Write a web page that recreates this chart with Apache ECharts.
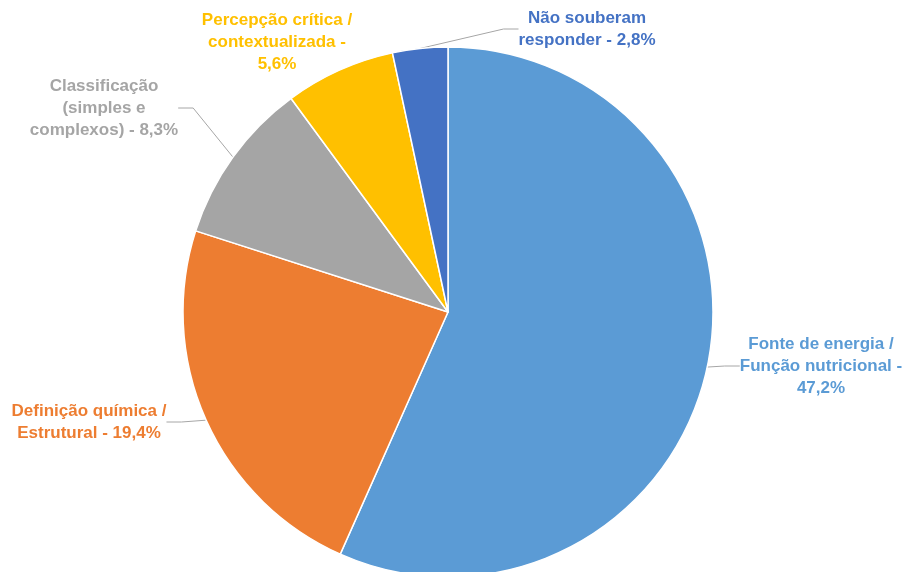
<!DOCTYPE html>
<html>
<head>
<meta charset="utf-8">
<script src="https://cdn.jsdelivr.net/npm/echarts@6/dist/echarts.min.js"></script>
<style>
  html, body { margin: 0; padding: 0; background: #fff; }
  #chart { width: 908px; height: 572px; }
</style>
</head>
<body>
<div id="chart"></div>
<script>
// categorias e valores (%)
const categories = [
  'Fonte de energia /\nFunção nutricional -\n47,2%',
  'Definição química /\nEstrutural - 19,4%',
  'Classificação\n(simples e\ncomplexos) - 8,3%',
  'Percepção crítica /\ncontextualizada -\n5,6%',
  'Não souberam\nresponder - 2,8%'
]
const values = [47.2, 19.4, 8.3, 5.6, 2.8]
const colors = ['#5B9BD5', '#ED7D31', '#A5A5A5', '#FFC000', '#4472C4']

// posição dos rótulos (centro do texto)
const labelPos = [[821, 366], [89, 422], [104, 108], [277, 42], [587, 29]]

const chart = echarts.init(document.getElementById('chart'))
chart.setOption({
  animation: false,
  series: [{
    type: 'pie',
    center: [448, 312],
    radius: 265,
    startAngle: 90,
    clockwise: true,
    itemStyle: { borderColor: '#fff', borderWidth: 1.5 },
    label: {
      show: true,
      position: 'outside',
      overflow: 'none',
      edgeDistance: 0,
      fontFamily: 'Liberation Sans, Arial, sans-serif',
      fontWeight: 'bold',
      fontSize: 17,
      lineHeight: 22,
      align: 'center'
    },
    labelLine: {
      show: true,
      length: 10,
      length2: 15,
      lineStyle: { color: '#A6A6A6', width: 1 }
    },
    labelLayout: (params) => {
      const p = labelPos[params.dataIndex]
      return { x: p[0], y: p[1], align: 'center', verticalAlign: 'middle' }
    },
    data: values.map((v, i) => ({
      name: categories[i],
      value: v,
      itemStyle: { color: colors[i] },
      label: { color: colors[i] },
      labelLine: { show: i !== 3 } // Percepção sem linha
    }))
  }]
})
</script>
</body>
</html>
